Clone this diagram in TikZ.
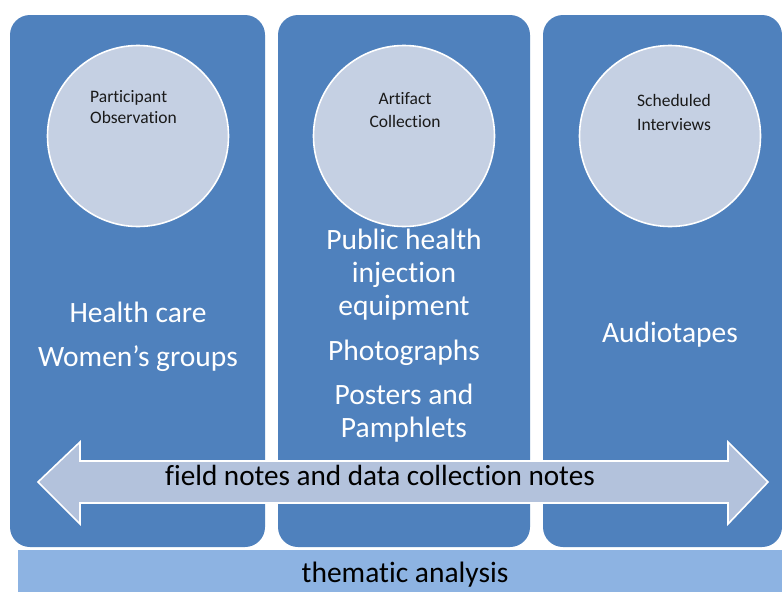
\documentclass[tikz,border=0pt]{standalone}
\usepackage{fontspec}
\setmainfont[Ligatures=NoCommon]{Carlito}
\definecolor{panelblue}{HTML}{4F81BD}
\definecolor{circlefill}{HTML}{C5D0E3}
\definecolor{arrowfill}{HTML}{B3C2DC}
\definecolor{barblue}{HTML}{8DB3E2}
\definecolor{darktext}{HTML}{1A1A1A}
\tikzset{
  panel/.style={fill=panelblue, draw=none, rounded corners=20pt},
  method/.style={circle, fill=circlefill, draw=white, line width=1.6pt, minimum size=181pt, inner sep=0pt},
  circtext/.style={anchor=base, inner sep=0pt, text=darktext, font=\fontsize{17.5}{22}\selectfont},
  paneltext/.style={anchor=base, inner sep=0pt, text=white, font=\fontsize{29.5}{33}\selectfont},
  notestext/.style={anchor=base, inner sep=0pt, text=black, font=\fontsize{29.2}{33}\selectfont},
}
\begin{document}
\begin{tikzpicture}[x=1pt,y=-1pt]
\useasboundingbox (0,0) rectangle (782,592);
\fill[white] (0,0) rectangle (782,592);
% panels
\path[panel] (10,15) rectangle (265,547);
\path[panel] (278,15) rectangle (530,547);
\path[panel] (543,15) rectangle (782,547);
% bottom bar
\node[fill=barblue, inner sep=0pt, minimum width=764pt, minimum height=42pt, anchor=north west] (bar) at (18,550) {};
\node[anchor=base, inner sep=0pt, text=black, font=\fontsize{29.5}{33}\selectfont] (thematic) at (405,582) {thematic analysis};
% circles
\node[method] (c1) at (138,136) {};
\node[method] (c2) at (404,136) {};
\node[method] (c3) at (670,136) {};
\node[circtext, anchor=base west] (p1) at (90,102) {Participant};
\node[circtext, anchor=base west] (p2) at (90,123) {Observation};
\node[circtext] (a1) at (405,104) {Artifact};
\node[circtext] (a2) at (405,127) {Collection};
\node[circtext] (s1) at (674,106) {Scheduled};
\node[circtext] (s2) at (674,130) {Interviews};
% panel texts
\node[paneltext] (hc) at (138,322) {Health care};
\node[paneltext] (wg) at (138,366) {Women’s groups};
\node[paneltext] (ph) at (404,249) {Public health};
\node[paneltext] (inj) at (404,282) {injection};
\node[paneltext] (eq) at (404,315) {equipment};
\node[paneltext] (photo) at (404,360) {Photographs};
\node[paneltext] (post) at (404,404) {Posters and};
\node[paneltext] (pam) at (404,437) {Pamphlets};
\node[paneltext] (audio) at (670,342) {Audiotapes};
% double arrow
\draw[fill=arrowfill, draw=white, line width=1.6pt, line join=miter]
  (38,482) -- (80,442) -- (80,461) -- (728,461) -- (728,442) -- (768,482)
  -- (728,524) -- (728,503) -- (80,503) -- (80,524) -- cycle;
\node[notestext] (notes) at (380,485) {field notes and data collection notes};
\end{tikzpicture}
\end{document}
